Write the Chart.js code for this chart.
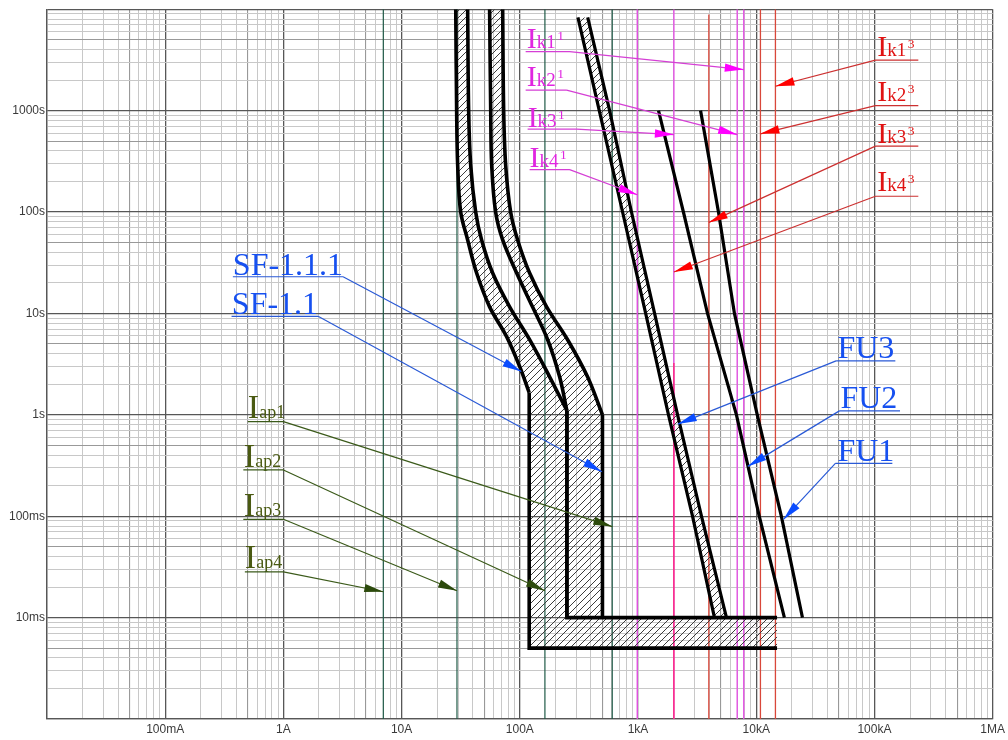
<!DOCTYPE html>
<html>
<head>
<meta charset="utf-8">
<script src="https://cdn.jsdelivr.net/npm/chart.js@4.4.1/dist/chart.umd.min.js"></script>
<style>
  html, body { margin: 0; padding: 0; background: #fff; }
  #wrap { width: 1008px; height: 740px; position: relative; }
</style>
</head>
<body>
<div id="wrap"><canvas id="tcc" width="1008" height="740"></canvas></div>
<script>
// Time-current selectivity chart: current in A, time in s (log-log)
const currentMin = 0.01, currentMax = 1e6;
const timeMin = 0.001, timeMax = 10000;
const currentDecadeLabels = ['', '100mA', '1A', '10A', '100A', '1kA', '10kA', '100kA', '1MA'];
const timeDecadeLabels = ['', '10ms', '100ms', '1s', '10s', '100s', '1000s', ''];

// Breaker SF-1.1.1: min / max tripping curves
const sf111MinI = [28.7, 29.2, 29.8, 31.6, 36.2, 43.1, 55.5, 77.3, 99.6, 120, 120, 15000];
const sf111MinT = [10000, 1000, 290, 100, 53, 25, 11.6, 5.9, 3.0, 1.65, 0.005, 0.005];
const sf111MaxI = [36.2, 36.9, 38.4, 42.3, 47.5, 58.9, 82, 121, 178.6, 250, 250, 15000];
const sf111MaxT = [10000, 1000, 290, 100, 53, 25, 11.6, 5.5, 2.37, 1.1, 0.01, 0.01];

// Breaker SF-1.1: min / max tripping curves
const sf11MinI = [55.5, 56.7, 57.8, 62.4, 71.6, 94, 128, 172, 217, 250, 250];
const sf11MinT = [10000, 1000, 290, 100, 53, 25, 11.6, 5.5, 2.37, 1.1, 0.01];
const sf11MaxI = [71.6, 73, 75.9, 83.6, 95.8, 121, 168.5, 253.6, 374, 500, 500];
const sf11MaxT = [10000, 1000, 290, 100, 53, 25, 11.6, 5.5, 2.37, 1.0, 0.01];

// Fuses
const fu3MinI = [310, 470, 740, 1160, 1810, 2890, 4430];
const fu3MaxI = [375, 575, 880, 1380, 2160, 3440, 5600];
const fu3T = [8300, 1000, 100, 10, 1, 0.1, 0.01];
const fu2I = [1490, 2420, 3870, 6800, 10600, 17300];
const fu1I = [3380, 4790, 6540, 10200, 16300, 24600];
const fuT = [1000, 100, 10, 1, 0.1, 0.01];

// Marked currents
const iapCurrents = [605, 163, 29.4, 7];          // Iap1..Iap4
const ik1Currents = [7840, 6900, 2010, 985];      // Ik1¹..Ik4¹
const ik3Currents = [14530, 10850, 3970, 2010];   // Ik1³..Ik4³
const ik3TopTimes = [10000, 10000, 8870, 3.25];

const pts = (xs, ys) => xs.map((v, i) => ({ x: v, y: ys[i] }));
const rev = a => a.slice().reverse();

function hatchPattern() {
  const c = document.createElement('canvas');
  c.width = 7; c.height = 7;
  const g = c.getContext('2d');
  g.strokeStyle = '#3c3c3c';
  g.lineWidth = 1;
  g.beginPath();
  g.moveTo(-1, 8); g.lineTo(8, -1);
  g.moveTo(-1, 1); g.lineTo(1, -1);
  g.moveTo(6, 8); g.lineTo(8, 6);
  g.stroke();
  return g.createPattern(c, 'repeat');
}
const hatch = hatchPattern();

function logTicks(min, max) {
  const out = [];
  for (let e = Math.round(Math.log10(min)); e < Math.round(Math.log10(max)); e++) {
    for (let m = 1; m <= 9; m++) out.push(+(m * Math.pow(10, e)).toPrecision(6));
  }
  out.push(max);
  return out;
}
function mantissa(v) {
  const e = Math.floor(Math.log10(v) + 1e-9);
  return Math.round(v / Math.pow(10, e));
}
const gridColor = ctx => {
  const m = mantissa(ctx.tick.value);
  return m === 1 ? '#575757' : (m === 5 ? '#999999' : '#c8c8c8');
};
const gridWidth = ctx => {
  const m = mantissa(ctx.tick.value);
  return m === 1 ? 1.3 : (m === 5 ? 1.1 : 1);
};
function decadeLabel(v, min, labels) {
  const k = Math.log10(v / min);
  const r = Math.round(k);
  return Math.abs(k - r) < 1e-6 ? (labels[r] || '') : '';
}

const vline = (I, t0, t1, color, width) => ({
  data: [{ x: I, y: t0 }, { x: I, y: t1 }],
  borderColor: color, borderWidth: width, pointRadius: 0, fill: false, order: 3
});
const outline = (data, width, tension) => ({
  data, borderColor: '#000', borderWidth: width, pointRadius: 0, fill: false,
  tension: tension || 0, borderJoinStyle: 'miter', borderCapStyle: 'butt', order: 1
});
const hatched = data => ({
  data, borderColor: 'rgba(0,0,0,0)', borderWidth: 0, pointRadius: 0,
  fill: 'shape', backgroundColor: hatch, order: 2
});

// breaker curve: smooth thermal part down to the knee, straight instantaneous part below it
function breakerOutline(I, T) {
  const k = I.findIndex((v, i) => i > 0 && v === I[i + 1]);
  const p = pts(I, T);
  return [outline(p.slice(0, k + 1), 3.6, 0.35), outline(p.slice(k), 3.6, 0)];
}

const datasets = [];
// outlines
datasets.push(...breakerOutline(sf111MinI, sf111MinT));
datasets.push(...breakerOutline(sf111MaxI, sf111MaxT));
datasets.push(...breakerOutline(sf11MinI, sf11MinT));
datasets.push(...breakerOutline(sf11MaxI, sf11MaxT));
datasets.push(outline(pts(fu3MinI, fu3T), 3.2));
datasets.push(outline(pts(fu3MaxI, fu3T), 3.2));
datasets.push(outline(pts(fu2I, fuT), 3.2));
datasets.push(outline(pts(fu1I, fuT), 3.2));
// hatched bands
datasets.push(hatched(pts(sf111MinI, sf111MinT).concat(rev(pts(sf111MaxI, sf111MaxT)))));
datasets.push(hatched(pts(sf11MinI, sf11MinT).concat(rev(pts(sf11MaxI, sf11MaxT)))));
datasets.push(hatched(pts(fu3MinI, fu3T).concat(rev(pts(fu3MaxI, fu3T)))));
// marked currents
ik3Currents.forEach((I, i) => datasets.push(
  vline(I, timeMin, ik3TopTimes[i], i === 3 ? '#ff2277' : '#d9473a', 1.3)));
ik1Currents.forEach(I => datasets.push(vline(I, timeMin, timeMax, '#e452e4', 1.4)));
iapCurrents.forEach(I => datasets.push(vline(I, timeMin, timeMax, '#1f5a47', 1.2)));

// Callout labels with leaders and arrowheads (positions in A / s)
const ik = (n, p) => [['I', 30], ['k' + n, 19], [p, 13.5, -8, 1.5]];
const iap = n => [['I', 34], ['ap' + n, 18]];
const plain = s => [[s, 32]];
const MAG = { text: '#e026e0', line: '#d53fd5', head: '#ff00ff' };
const RED = { text: '#e01212', line: '#cc3030', head: '#ff0000' };
const BLU = { text: '#1650f0', line: '#2a5ad6', head: '#0a4cff' };
const GRN = { text: '#4a5a12', line: '#3b5a1a', head: '#2c4a0c' };
const callouts = [
  { parts: ik(1, '1'), c: MAG, at: [114.2, 4186], ul: [112, 263.6], from: [263.6, 3822], tip: [7840, 2540] },
  { parts: ik(2, '1'), c: MAG, at: [114.2, 1745], ul: [112, 248.7], from: [248.7, 1594], tip: [6900, 580] },
  { parts: ik(3, '1'), c: MAG, at: [116.4, 695], ul: [116.4, 302], from: [302, 657], tip: [2010, 580] },
  { parts: ik(4, '1'), c: MAG, at: [121, 280], ul: [121, 263.6], from: [263.6, 261.6], tip: [985, 148] },
  { parts: ik(1, '3'), c: RED, at: [105800, 3491], ul: [101900, 235000], from: [101900, 3151], tip: [14530, 1740] },
  { parts: ik(2, '3'), c: RED, at: [105800, 1255], ul: [101800, 235000], from: [101800, 1120], tip: [10850, 590] },
  { parts: ik(3, '3'), c: RED, at: [105800, 478], ul: [101900, 235000], from: [101900, 446], tip: [3970, 79] },
  { parts: ik(4, '3'), c: RED, at: [105800, 162], ul: [101800, 235000], from: [101800, 143], tip: [2010, 25.6] },
  { parts: plain('SF-1.1.1'), c: BLU, at: [0.3735, 24.0], ul: [0.3735, 3.196], from: [3.196, 22.98], tip: [103, 2.67] },
  { parts: plain('SF-1.1'), c: BLU, at: [0.3664, 9.91], ul: [0.3641, 1.965], from: [1.965, 9.36], tip: [495, 0.275] },
  { parts: plain('FU3'), c: BLU, at: [48580, 3.645], ul: [47360, 150200], from: [47360, 3.405], tip: [2170, 0.81] },
  { parts: plain('FU2'), c: BLU, at: [51490, 1.157], ul: [50500, 164600], from: [50500, 1.093], tip: [8480, 0.31] },
  { parts: plain('FU1'), c: BLU, at: [48580, 0.3507], ul: [46720, 141700], from: [46720, 0.3313], tip: [17000, 0.093] },
  { parts: iap(1), c: GRN, at: [0.5002, 0.932], ul: [0.5, 1.0], from: [1.0, 0.857], tip: [605, 0.079] },
  { parts: iap(2), c: GRN, at: [0.4627, 0.306], ul: [0.458, 1.0], from: [1.0, 0.2858], tip: [163, 0.0184] },
  { parts: iap(3), c: GRN, at: [0.4627, 0.1005], ul: [0.458, 1.0], from: [1.0, 0.0932], tip: [29.4, 0.0184] },
  { parts: iap(4), c: GRN, at: [0.4718, 0.0308], ul: [0.4718, 1.0], from: [1.0, 0.0283], tip: [7, 0.018] }
];

const calloutPlugin = {
  id: 'callouts',
  afterDatasetsDraw(chart) {
    const { ctx } = chart;
    const sx = chart.scales.x, sy = chart.scales.y;
    const X = v => sx.getPixelForValue(v), Y = v => sy.getPixelForValue(v);
    ctx.save();
    for (const c of callouts) {
      // text
      let x = X(c.at[0]);
      const y0 = Y(c.at[1]);
      ctx.fillStyle = c.c.text;
      ctx.textAlign = 'left';
      ctx.textBaseline = 'alphabetic';
      for (const [text, size, dy, gap] of c.parts) {
        x += gap || 0;
        ctx.font = size + 'px "Liberation Serif", "Times New Roman", serif';
        ctx.fillText(text, x, y0 + (dy || 0));
        x += ctx.measureText(text).width;
      }
      // underline and leader
      const uy = Y(c.from[1]);
      const fx = X(c.from[0]);
      const tx = X(c.tip[0]), ty = Y(c.tip[1]);
      ctx.strokeStyle = c.c.line;
      ctx.lineWidth = 1.2;
      ctx.beginPath();
      ctx.moveTo(X(c.ul[0]), uy);
      ctx.lineTo(X(c.ul[1]), uy);
      ctx.moveTo(fx, uy);
      ctx.lineTo(tx, ty);
      ctx.stroke();
      // arrowhead
      const dx = tx - fx, dyy = ty - uy;
      const L = Math.hypot(dx, dyy), ux = dx / L, uy2 = dyy / L;
      const len = 19, w = 4.2;
      const bx = tx - ux * len, by = ty - uy2 * len;
      ctx.fillStyle = c.c.head;
      ctx.beginPath();
      ctx.moveTo(tx, ty);
      ctx.lineTo(bx - uy2 * w, by + ux * w);
      ctx.lineTo(bx + uy2 * w, by - ux * w);
      ctx.closePath();
      ctx.fill();
    }
    ctx.restore();
  }
};

const tickFont = { family: '"Liberation Sans", Arial, sans-serif', size: 12 };

new Chart(document.getElementById('tcc'), {
  type: 'line',
  data: { datasets },
  plugins: [calloutPlugin],
  options: {
    responsive: false,
    animation: false,
    devicePixelRatio: 1,
    events: [],
    layout: { padding: { left: 0, top: 9, right: 15, bottom: 0 } },
    plugins: { legend: { display: false }, tooltip: { enabled: false } },
    scales: {
      x: {
        type: 'logarithmic',
        min: currentMin, max: currentMax,
        afterBuildTicks: s => { s.ticks = logTicks(currentMin, currentMax).map(v => ({ value: v })); },
        afterFit: s => { s.height = 21; },
        grid: { color: gridColor, lineWidth: gridWidth, drawTicks: false },
        border: { display: true, color: '#575757', width: 1.3 },
        ticks: {
          autoSkip: false, maxRotation: 0, minRotation: 0, padding: 3,
          font: tickFont, color: '#3a3a3a',
          callback: v => decadeLabel(v, currentMin, currentDecadeLabels)
        }
      },
      y: {
        type: 'logarithmic',
        min: timeMin, max: timeMax,
        afterBuildTicks: s => { s.ticks = logTicks(timeMin, timeMax).map(v => ({ value: v })); },
        afterFit: s => { s.width = 47; },
        grid: { color: gridColor, lineWidth: gridWidth, drawTicks: false },
        border: { display: true, color: '#575757', width: 1.3 },
        ticks: {
          autoSkip: false, padding: 2,
          font: tickFont, color: '#3a3a3a',
          callback: v => decadeLabel(v, timeMin, timeDecadeLabels)
        }
      }
    }
  }
});
</script>
</body>
</html>
